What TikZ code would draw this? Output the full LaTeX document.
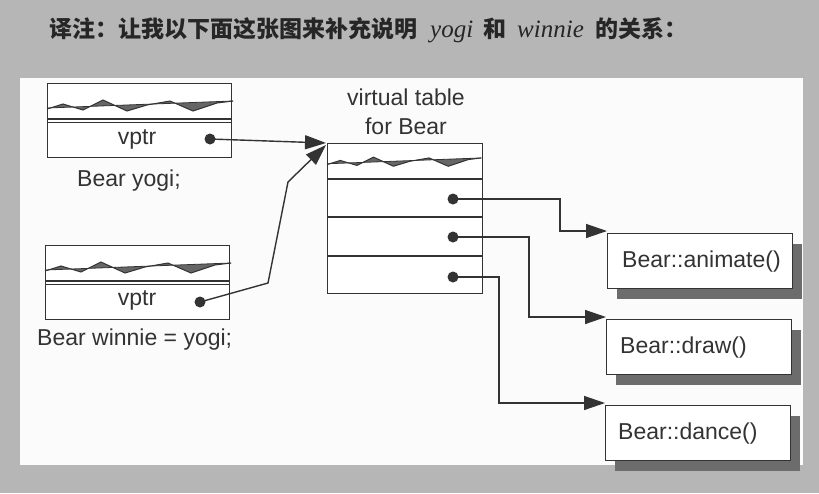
\documentclass[tikz,border=0pt]{standalone}
\usepackage{fontspec}
\setmainfont{Liberation Sans}
\newfontfamily\cjk{Noto Sans CJK SC}
\newfontfamily\serifit{Liberation Serif}
\usetikzlibrary{arrows.meta,shadows,calc}
\definecolor{bggray}{HTML}{B6B6B6}
\definecolor{panelw}{HTML}{FBFBFB}
\definecolor{ink}{HTML}{333333}
\definecolor{shade}{HTML}{6C6C6C}
\tikzset{
  lbl/.style={text=ink, font=\fontsize{23}{29}\selectfont, inner sep=0pt},
  objbox/.style={draw=ink, fill=white, line width=1.4pt, minimum width=184pt, minimum height=74pt, anchor=north west, inner sep=0pt},
  tablebox/.style={draw=ink, fill=white, line width=1.4pt, minimum width=155pt, minimum height=150pt, anchor=north west, inner sep=0pt},
  fnbox/.style={draw=ink, fill=white, line width=1.3pt, minimum width=185pt, minimum height=55pt, anchor=north west, inner sep=0pt,
    drop shadow={shadow xshift=9pt, shadow yshift=-10pt, fill=shade, opacity=1}},
  ptrdot/.style={circle, fill=ink, minimum size=11pt, inner sep=0pt},
  arr/.style={draw=ink, line width=1.4pt, -{Triangle[length=21pt,width=14pt]}},
  divider/.style={draw=ink, line width=1.6pt},
  pics/wave/.style={code={
    \fill[ink!75] (0,26) -- (16,21) -- (36,27) -- (56,17) -- (80,28) -- (100,22) -- (123,18) -- (146,28) -- (170,20) -- (186,18)
       -- (186,18) -- (0,25) -- cycle;
    \draw[ink, line width=1pt] (0,26) -- (16,21) -- (36,27) -- (56,17) -- (80,28) -- (100,22) -- (123,18) -- (146,28) -- (170,20) -- (186,18);
    \draw[ink, line width=0.8pt] (0,25) -- (186,18);
  }}
}
\newcommand\itwd[1]{{\serifit\mdseries\itshape\fontsize{25}{26}\selectfont #1}}
\begin{document}
\begin{tikzpicture}[x=1pt,y=-1pt]
\useasboundingbox (0,0) rectangle (819,493);
\fill[bggray] (0,0) rectangle (819,493);
\fill[panelw] (20,78) rectangle (803,465);

% title
\node[anchor=west, inner sep=0pt, text=black!85] (title) at (49,30)
  {\cjk\bfseries\fontsize{23}{26}\selectfont 译注：让我以下面这张图来补充说明\hspace{13pt}\itwd{yogi}\hspace{10pt}和\hspace{11pt}\itwd{winnie}\hspace{12pt}的关系：};

% yogi object
\node[objbox] (yogi) at (47,83) {};
\pic at (47,83) {wave};
\draw[divider] (yogi.west |- 0,119) -- (yogi.east |- 0,119);
\draw[ink, line width=1pt] (yogi.west |- 0,122) -- (yogi.east |- 0,122);
\node[lbl] (yvptr) at (137,139) {vptr};
\node[ptrdot] (yd) at (210,139) {};
\node[lbl, anchor=west] (ylab) at (77,181) {Bear yogi;};

% winnie object
\node[objbox] (winnie) at (45,245) {};
\pic at (45,245) {wave};
\draw[divider] (winnie.west |- 0,281) -- (winnie.east |- 0,281);
\draw[ink, line width=1pt] (winnie.west |- 0,284) -- (winnie.east |- 0,284);
\node[lbl] (wvptr) at (137,300) {vptr};
\node[ptrdot] (wd) at (200,302) {};
\node[lbl, anchor=west] (wlab) at (37,340) {Bear winnie = yogi;};

% virtual table
\node[lbl, align=center] (vtlab) at (406,112) {virtual table\\for Bear};
\node[tablebox] (vt) at (327,143) {};
\pic[xscale=0.83, yscale=0.83] at (327,143) {wave};
\draw[divider] (vt.west |- 0,179) -- (vt.east |- 0,179);
\draw[divider] (vt.west |- 0,217) -- (vt.east |- 0,217);
\draw[divider] (vt.west |- 0,256) -- (vt.east |- 0,256);
\node[ptrdot] (d1) at (453,199) {};
\node[ptrdot] (d2) at (453,237) {};
\node[ptrdot] (d3) at (453,277) {};

% function boxes
\node[fnbox] (anim) at (607,233) {};
\node[lbl, anchor=west] (animt) at ([xshift=15pt]anim.west) {Bear::animate()};
\node[fnbox] (drw) at (606,319) {};
\node[lbl, anchor=west] (drwt) at ([xshift=14pt]drw.west) {Bear::draw()};
\node[fnbox] (dnc) at (605,405) {};
\node[lbl, anchor=west] (dnct) at ([xshift=13pt]dnc.west) {Bear::dance()};

% connectors
\draw[arr] (yd.center) -- ([xshift=-1pt]vt.north west);
\draw[arr] (wd.center) -- (268,283) -- (288,182) -- ([xshift=-1pt,yshift=-2pt]vt.north west);
\draw[arr] (d1.center) -- (560,199) |- ([yshift=2pt]anim.north west);
\draw[arr] (d2.center) -- (529,237) |- ([yshift=2pt]drw.north west);
\draw[arr] (d3.center) -- (499,277) |- ([yshift=2pt]dnc.north west);
\end{tikzpicture}
\end{document}
